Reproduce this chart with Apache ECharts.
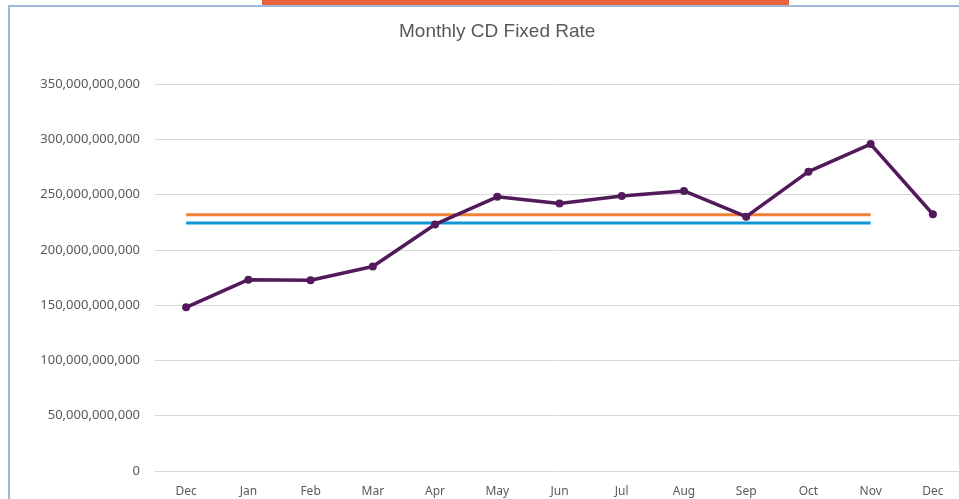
<!DOCTYPE html>
<html>
<head>
<meta charset="utf-8">
<script src="https://cdn.jsdelivr.net/npm/echarts@6/dist/echarts.min.js"></script>
<style>html,body{margin:0;padding:0;background:#fff;overflow:hidden;width:959px;height:499px;}#c{width:964px;height:499px;}</style>
</head>
<body>
<div id="c"></div>
<script>
var categories = ['Dec','Jan','Feb','Mar','Apr','May','Jun','Jul','Aug','Sep','Oct','Nov','Dec'];
var monthlyValues = [148e9, 173e9, 172.5e9, 185e9, 223e9, 248e9, 242e9, 248.7e9, 253.3e9, 230e9, 270.7e9, 295.7e9, 232.2e9];
var orangeValues = [231.8e9, 231.8e9, 231.8e9, 231.8e9, 231.8e9, 231.8e9, 231.8e9, 231.8e9, 231.8e9, 231.8e9, 231.8e9, 231.8e9, null];
var blueValues = [224.3e9, 224.3e9, 224.3e9, 224.3e9, 224.3e9, 224.3e9, 224.3e9, 224.3e9, 224.3e9, 224.3e9, 224.3e9, 224.3e9, null];
var yMin = 0, yMax = 350e9, yStep = 50e9;

var chart = echarts.init(document.getElementById('c'), null, {renderer: 'canvas'});
var font = '"Noto Sans", "Open Sans", sans-serif';
chart.setOption({
  animation: false,
  backgroundColor: '#ffffff',
  title: {
    text: 'Monthly CD Fixed Rate',
    left: 394, top: 17,
    textStyle: {fontFamily: '"Liberation Sans", Arial, sans-serif', fontSize: 19, fontWeight: 'normal', color: '#595959'}
  },
  graphic: [
    {type: 'rect', shape: {x: 262, y: 0, width: 527, height: 5}, style: {fill: '#E8603C'}, silent: true},
    {type: 'rect', shape: {x: 8, y: 5, width: 956, height: 2}, style: {fill: '#9DB8DA'}, silent: true},
    {type: 'rect', shape: {x: 8, y: 5, width: 2, height: 494}, style: {fill: '#9DB8DA'}, silent: true}
  ],
  grid: {left: 155, top: 84, right: 0, bottom: 28, containLabel: false},
  xAxis: {
    type: 'category',
    data: categories,
    boundaryGap: true,
    axisLine: {lineStyle: {color: '#d9d9d9', width: 1}},
    axisTick: {show: false},
    axisLabel: {color: '#595959', fontFamily: font, fontSize: 12, margin: 15}
  },
  yAxis: {
    type: 'value',
    min: yMin, max: yMax, interval: yStep,
    axisLine: {show: false},
    axisTick: {show: false},
    splitLine: {lineStyle: {color: '#d9d9d9', width: 1}},
    axisLabel: {
      color: '#595959', fontFamily: font, fontSize: 13, margin: 15,
      formatter: function (v) { return Number(v).toLocaleString('en-US'); }
    }
  },
  series: [
    {
      type: 'line', data: monthlyValues,
      symbol: 'circle', symbolSize: 8,
      lineStyle: {color: '#521A5B', width: 3.5},
      itemStyle: {color: '#521A5B'},
      z: 3
    },
    {
      type: 'line', data: blueValues, symbol: 'none',
      lineStyle: {color: '#1396D8', width: 3}, z: 2
    },
    {
      type: 'line', data: orangeValues, symbol: 'none',
      lineStyle: {color: '#EF8136', width: 3}, z: 2
    }
  ]
});
</script>
</body>
</html>
